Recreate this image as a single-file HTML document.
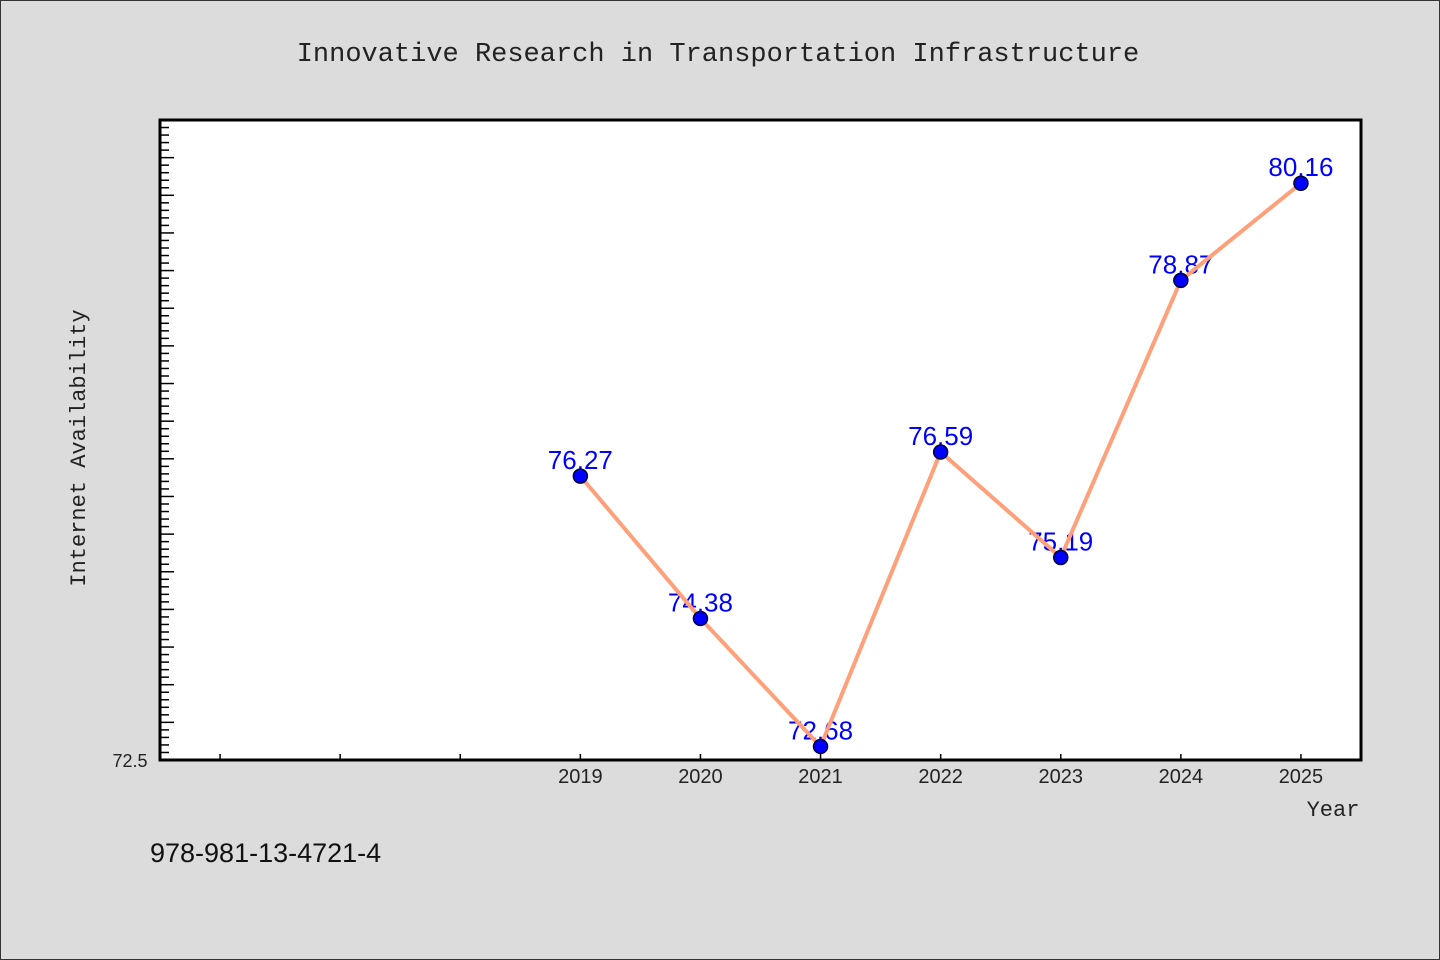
<!DOCTYPE html>
<html><head><meta charset="utf-8"><style>
html,body{margin:0;padding:0;background:#dcdcdc;}
svg{display:block;}
</style></head><body>
<svg width="1440" height="960" xmlns="http://www.w3.org/2000/svg">
<rect x="0.5" y="0.5" width="1439" height="959" fill="#dcdcdc" stroke="#333"/>
<text x="718" y="61" text-anchor="middle" font-family="Liberation Mono, monospace" font-size="27" fill="#222">Innovative Research in Transportation Infrastructure</text>
<rect x="160" y="120" width="1201" height="640" fill="#fff"/>
<g id="ticks"></g>
<g id="labels"></g>
<polyline id="line" fill="none" stroke="#ffa07a" stroke-width="4" stroke-linejoin="round"/>
<g id="points"></g>
<rect x="160" y="120" width="1201" height="640" fill="none" stroke="#000" stroke-width="3"/>
<text x="130" y="767" text-anchor="middle" font-family="Liberation Sans, sans-serif" font-size="18" fill="#222">72.5</text>
<text x="1333" y="816" text-anchor="middle" font-family="Liberation Mono, monospace" font-size="22" fill="#222">Year</text>
<text transform="translate(85,448) rotate(-90)" text-anchor="middle" font-family="Liberation Mono, monospace" font-size="22" fill="#222">Internet Availability</text>
<text x="150" y="862" font-family="Liberation Sans, sans-serif" font-size="27" fill="#111">978-981-13-4721-4</text>
</svg>
<script>
const years = [2019, 2020, 2021, 2022, 2023, 2024, 2025];
const values = [76.27, 74.38, 72.68, 76.59, 75.19, 78.87, 80.16];
const xTickYears = [2016, 2017, 2018, 2019, 2020, 2021, 2022, 2023, 2024, 2025];
const xTickLabels = ["", "", "", "2019", "2020", "2021", "2022", "2023", "2024", "2025"];
const X0=160, X1=1361, Y0=760, Y1=120;
const xMin=2015.5, xMax=2025.5, yMin=72.5, yMax=81.0;
const sx = v => X0 + (v - xMin) / (xMax - xMin) * (X1 - X0);
const sy = v => Y0 - (v - yMin) / (yMax - yMin) * (Y0 - Y1);
const NS="http://www.w3.org/2000/svg";
function mk(tag, attrs, parent){const e=document.createElementNS(NS,tag);for(const k in attrs)e.setAttribute(k,attrs[k]);parent.appendChild(e);return e;}
const ticks=document.getElementById('ticks');
for(let i=0;i<=85;i++){
  const v=yMin+i*0.1; if(v>yMax+1e-6)break;
  const y=sy(v); const major=i%5===0;
  const t=mk('line',{x1:X0,x2:X0+(major?14:9),y1:y,y2:y,stroke:'#000','stroke-width':1.5},ticks);
  
  
}
xTickYears.forEach((yr,i)=>{
  const x=sx(yr);
  const t=mk('line',{x1:x,x2:x,y1:Y0,y2:Y0-6,stroke:'#000','stroke-width':1.5},ticks);
  
  
  if(xTickLabels[i]){
    const l=mk('text',{x:x,y:Y0+23,'text-anchor':'middle','font-family':'Liberation Sans, sans-serif','font-size':20,fill:'#222'},ticks);
    l.textContent=xTickLabels[i];
    
    
  }
});
const labels=document.getElementById('labels');
const pts=document.getElementById('points');
document.getElementById('line').setAttribute('points',years.map((y,i)=>sx(y)+','+sy(values[i])).join(' '));
years.forEach((yr,i)=>{
  const x=sx(yr), y=sy(values[i]);
  const l=mk('text',{x:x,y:y-7,'text-anchor':'middle','font-family':'Liberation Sans, sans-serif','font-size':26,fill:'#0000ff'},labels);
  l.textContent=values[i].toFixed(2);
  
  
  const c=mk('circle',{cx:x,cy:y,r:7,fill:'#0000ff',stroke:'#000033','stroke-width':1.5},pts);
  
  
});
</script>
</body></html>
